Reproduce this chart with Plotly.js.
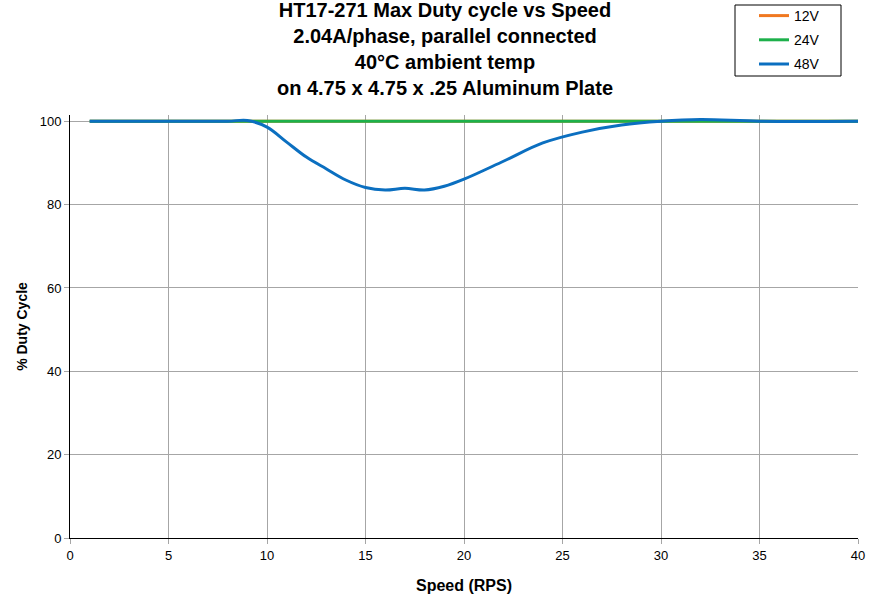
<!DOCTYPE html>
<html>
<head>
<meta charset="utf-8">
<script src="https://cdn.plot.ly/plotly-3.0.1.min.js"></script>
<style>html,body{margin:0;padding:0;background:#fff;}#chart{width:870px;height:596px;}</style>
</head>
<body>
<div id="chart"></div>
<script>
const speed12 = [1, 5, 10, 15, 20, 25, 30, 35, 40];
const duty12 = [100, 100, 100, 100, 100, 100, 100, 100, 100];
const speed24 = [1, 5, 10, 15, 20, 25, 30, 35, 40];
const duty24 = [100, 100, 100, 100, 100, 100, 100, 100, 100];
const speed48 = [1, 5, 8, 9, 10, 11, 12, 13, 14, 15, 16, 17, 18, 19, 20, 22, 24, 26, 28, 30, 32, 35, 40];
const duty48 = [100, 100, 100, 100.2, 98.6, 95.0, 91.4, 88.6, 85.9, 84.1, 83.5, 83.9, 83.5, 84.4, 86.1, 90.4, 94.8, 97.4, 99.1, 100, 100.4, 100, 100];
const xTicks = [0, 5, 10, 15, 20, 25, 30, 35, 40];
const yTicks = [0, 20, 40, 60, 80, 100];

const font = {family: 'Liberation Sans, Arial, sans-serif', color: '#000'};

const traces = [
  {x: speed12, y: duty12, name: '12V', legendgroup: 'a', mode: 'lines', line: {color: '#F07820', width: 3}},
  {x: speed24, y: duty24, name: '24V', legendgroup: 'b', mode: 'lines', line: {color: '#1DB04B', width: 3}},
  {x: speed48, y: duty48, name: '48V', legendgroup: 'c', mode: 'lines', line: {color: '#0B6FC0', width: 3, shape: 'spline', smoothing: 1.0}}
];

// plot area: x 70..858, y 115..538 (pixels)
const pl = 70, pr = 858, pt = 115, pb = 538;
const px = v => (v - pl) / (pr - pl);
const py = v => (pb - v) / (pb - pt);

const layout = {
  width: 870, height: 596,
  paper_bgcolor: '#fff', plot_bgcolor: '#fff',
  font: Object.assign({size: 13}, font),
  margin: {l: pl, r: 870 - pr, t: pt, b: 596 - pb, autoexpand: false},
  title: {
    text: '<b>HT17-271 Max Duty cycle vs Speed<br>2.04A/phase, parallel connected<br>40°C ambient temp<br>on 4.75 x 4.75 x .25 Aluminum Plate</b>',
    font: Object.assign({size: 20}, font),
    x: 445/870, xanchor: 'center', xref: 'container',
    y: 1 - 17/596, yanchor: 'top', yref: 'container'
  },
  xaxis: {
    range: [0, 40], tickvals: xTicks, ticktext: xTicks.map(String),
    showgrid: true, gridcolor: '#a6a6a6', gridwidth: 1,
    showline: true, linecolor: '#000', linewidth: 1,
    ticks: 'outside', ticklen: 5, tickcolor: '#a6a6a6',
    zeroline: false,
    tickfont: Object.assign({size: 13}, font),
    title: {text: '<b>Speed (RPS)</b>', font: Object.assign({size: 16}, font), standoff: 18}
  },
  yaxis: {
    range: [0, 101.5], tickvals: yTicks, ticktext: yTicks.map(String),
    showgrid: true, gridcolor: '#a6a6a6', gridwidth: 1,
    showline: true, linecolor: '#000', linewidth: 1,
    ticks: 'outside', ticklen: 5, tickcolor: '#a6a6a6',
    zeroline: false,
    tickfont: Object.assign({size: 13}, font),
    title: {text: '<b>% Duty Cycle</b>', font: Object.assign({size: 14}, font), standoff: 8}
  },
  legend: {
    x: px(754), xanchor: 'left',
    y: py(0), yanchor: 'top',
    borderwidth: 0, bgcolor: 'rgba(0,0,0,0)',
    font: Object.assign({size: 14}, font),
    itemwidth: 30, tracegroupgap: 3
  },
  shapes: [{
    type: 'rect', xref: 'paper', yref: 'paper',
    x0: px(735), x1: px(841), y0: py(5), y1: py(76),
    line: {color: '#000', width: 1}, fillcolor: 'rgba(0,0,0,0)', layer: 'above'
  }],
  showlegend: true
};

Plotly.newPlot('chart', traces, layout, {displayModeBar: false, staticPlot: true});
</script>
</body>
</html>
